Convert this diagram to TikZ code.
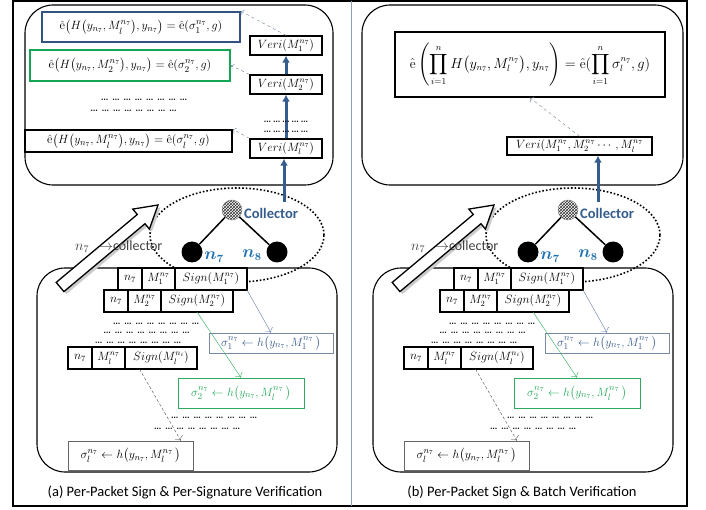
\documentclass[tikz,border=0pt]{standalone}
\usepackage{fontspec}
\setsansfont{Carlito}
\usepackage{amsmath,bm}
\usetikzlibrary{positioning,arrows.meta,patterns,calc}
\definecolor{flowblue}{RGB}{52,92,140}
\definecolor{nodeblue}{RGB}{30,112,180}
\definecolor{eqblue}{RGB}{50,82,130}
\definecolor{eqgreen}{RGB}{20,165,85}
\definecolor{sigblue}{RGB}{60,92,140}
\definecolor{sigframe}{RGB}{120,138,165}
\definecolor{siggreen}{RGB}{45,170,95}
\definecolor{dashgray}{RGB}{110,128,150}
\definecolor{divider}{RGB}{140,160,180}
\newcommand{\ehat}{\hat{\mathrm{e}}}
\newcommand{\dotline}{\ldots\ \ldots\ \ldots\ \ldots\ \ldots\ \ldots\ \ldots\ \ldots}
\tikzset{
  panel/.style={draw, line width=1.1pt, rounded corners=28pt, fill=white},
  cell/.style={draw, line width=1.3pt, outer sep=0pt, inner sep=1pt, minimum height=22, fill=white, font=\fontsize{11.5}{13}\selectfont},
  veri/.style={draw, line width=1.3pt, inner sep=1pt, minimum height=19, minimum width=72, fill=white, font=\fontsize{11.5}{13}\selectfont},
  eqbox/.style={draw, line width=1.6pt, inner sep=2pt, font=\fontsize{12.5}{14}\selectfont},
  sigbox/.style={draw, line width=0.8pt, inner sep=1pt, fill=white, font=\fontsize{13}{15}\selectfont},
  dotrow/.style={inner sep=0pt, text height=3pt, text depth=0pt, font=\bfseries\fontsize{9}{10}\selectfont},
  flow/.style={-{Latex[length=7pt,width=8pt]}, line width=3pt, flowblue},
  hint/.style={-{To[length=3pt]}, dashed, thin, dashgray},
}
\begin{document}
\begin{tikzpicture}[x=1pt,y=-1pt]
\useasboundingbox (0,0) rectangle (706,510);
\draw[line width=1.5pt] (13,1) rectangle (687,506);
\draw[divider, line width=0.8pt] (351,1) -- (351,506);

\draw[panel] (25,5) rectangle (333,185);
\node[eqbox, draw=eqblue, minimum width=198, minimum height=30] (a-eq1) at (141,27) {$\ehat\bigl(H\bigl(y_{n_7},M_l^{n_7}\bigr),y_{n_7}\bigr)=\ehat(\sigma_1^{n_7},g)$};
\node[eqbox, draw=eqgreen, minimum width=200, minimum height=31] (a-eq2) at (130,65.5) {$\ehat\bigl(H\bigl(y_{n_7},M_2^{n_7}\bigr),y_{n_7}\bigr)=\ehat(\sigma_2^{n_7},g)$};
\node[dotrow] (a-d1) at (144,99) {\dotline};
\node[dotrow] (a-d2) at (133.5,110) {\dotline};
\node[eqbox, minimum width=207, minimum height=22] (a-eql) at (128.5,141) {$\ehat\bigl(H\bigl(y_{n_7},M_l^{n_7}\bigr),y_{n_7}\bigr)=\ehat(\sigma_l^{n_7},g)$};
\node[veri] (a-v1) at (286,45.5) {$Veri(M_1^{n_7})$};
\node[veri] (a-v2) at (286,84.5) {$Veri(M_2^{n_7})$};
\node[veri] (a-vl) at (286,148.5) {$Veri(M_l^{n_7})$};
\draw[flow] (a-v2.north) -- (a-v1.south);
\draw[flow] (a-vl.north) -- (a-v2.south);
\node[dotrow] (a-vd1) at (286,121) {\ldots\,\ldots\,\ldots\,\ldots\,\ldots};
\node[dotrow] (a-vd2) at (286,131) {\ldots\,\ldots\,\ldots\,\ldots\,\ldots};
\draw[hint] (a-v1.north) -- (a-eq1.north east);
\draw[hint] (a-v2.north west) -- (a-eq2.east);
\draw[hint] (a-vl.north west) -- (a-eql.north east);

\draw[panel] (362,5) rectangle (683,185);
\node[eqbox, font=\fontsize{13.5}{15}\selectfont, minimum width=270, minimum height=65] (b-eq) at (530,64.5) {$\displaystyle\ehat\left(\prod_{i=1}^{n}H\bigl(y_{n_7},M_l^{n_7}\bigr),y_{n_7}\right)=\ehat(\prod_{i=1}^{n}\sigma_l^{n_7},g)$};
\node[veri, minimum width=145, minimum height=18] (b-vl) at (579.5,146) {$Veri(M_1^{n_7},M_2^{n_7}\cdots,M_l^{n_7}$};
\draw[hint] (b-vl.north) -- (b-eq.south);

\foreach \p/\dx/\ux in {a/0/284,b/336/262}{
\begin{scope}[xshift=\dx]
  \draw[panel] (37,268) rectangle (337,472);
  \draw[dotted, line width=1.6pt] (237,235) ellipse [x radius=87pt, y radius=47pt];
  \node[circle, draw=gray, pattern=crosshatch, pattern color=black!80, minimum size=20, inner sep=0] (\p-col) at (232,210) {};
  \node[circle, fill=black, minimum size=21, inner sep=0] (\p-c7) at (192,252) {};
  \node[circle, fill=black, minimum size=21, inner sep=0] (\p-c8) at (277,252) {};
  \draw[line width=1.5pt] (\p-col) -- (\p-c7);
  \draw[line width=1.5pt] (\p-col) -- (\p-c8);
  \node[anchor=west, text=flowblue, font=\sffamily\bfseries\fontsize{14.5}{16}\selectfont, inner sep=0] (\p-coll) at (244,213) {Collector};
  \node[text=nodeblue, font=\fontsize{16}{18}\selectfont] (\p-l7) at (214,257) {$\bm{n_7}$};
  \node[text=nodeblue, font=\fontsize{16}{18}\selectfont] (\p-l8) at (252,255) {$\bm{n_8}$};
  \fill[black!20, shift={(2.5,2.5)}] (56.2,282.4) -- (137.3,214.5) -- (132.8,209.1) -- (158,205) -- (149.4,229.1) -- (145,223.7) -- (63.9,291.6) -- cycle;
  \draw[line width=1.3pt, fill=white] (56.2,282.4) -- (137.3,214.5) -- (132.8,209.1) -- (158,205) -- (149.4,229.1) -- (145,223.7) -- (63.9,291.6) -- cycle;
  \node[text=black!75, font=\sffamily\fontsize{14}{16}\selectfont, anchor=west, inner sep=0] (\p-lbl) at (75,247) {$n_7$\ \ \ $\rightarrow$collector};
  \foreach \r/\rx/\ry/\q in {1/118/279/7,2/104/301/7,l/68/358/i}{
    \node[cell, minimum width=24, anchor=west] (\p-n\r) at (\rx,\ry) {$n_7$};
    \node[cell, minimum width=33, right=0pt of \p-n\r] (\p-m\r) {$M_\r^{n_7}$};
    \node[cell, minimum width=72, right=0pt of \p-m\r] (\p-s\r) {$Sign(M_\r^{n_\q})$};
  }
  \node[dotrow] (\p-d1) at (156,323) {\dotline};
  \node[dotrow] (\p-d2) at (146.5,332) {\dotline};
  \node[dotrow] (\p-d3) at (138,342) {\dotline};
  \node[dotrow] (\p-d4) at (214,417) {\dotline};
  \node[dotrow] (\p-d5) at (197,428) {\dotline};
  \node[sigbox, draw=sigframe, text=sigblue, minimum width=124, minimum height=20] (\p-g1) at (271,343) {$\sigma_1^{n_7}\leftarrow h\bigl(y_{n_7},M_1^{n_7}\,\bigr)$};
  \node[sigbox, draw=siggreen, text=siggreen, minimum width=126, minimum height=30] (\p-g2) at (241,393) {$\sigma_2^{n_7}\leftarrow h\bigl(y_{n_7},M_l^{n_7}\,\bigr)$};
  \node[sigbox, draw=black!60, minimum width=125, minimum height=29] (\p-gl) at (130.5,455.5) {$\sigma_l^{n_7}\leftarrow h\bigl(y_{n_7},M_l^{n_7}\,\bigr)$};
  \draw[-{To[length=4pt]}, sigblue!80, thin] (\p-s1.south east) -- (\p-g1.north);
  \draw[-{To[length=4pt]}, siggreen, thin] (\p-s2.south) -- (\p-g2.north);
  \draw[-{To[length=4pt]}, black!70, densely dashed, thin] ($(\p-sl.south west)!0.2!(\p-sl.south east)$) -- ($(\p-gl.north west)!0.9!(\p-gl.north east)$);
  \coordinate (\p-up) at (\ux,202);
  \draw[flow] (\p-up) -- (\p-up |- \p-vl.south);
\end{scope}
}

\node[font=\sffamily\fontsize{14.5}{16}\selectfont] (a-cap) at (185,492) {(a) Per-Packet Sign \& Per-Signature Verification};
\node[font=\sffamily\fontsize{14.5}{16}\selectfont] (b-cap) at (522,492) {(b) Per-Packet Sign \& Batch Verification};
\end{tikzpicture}
\end{document}
